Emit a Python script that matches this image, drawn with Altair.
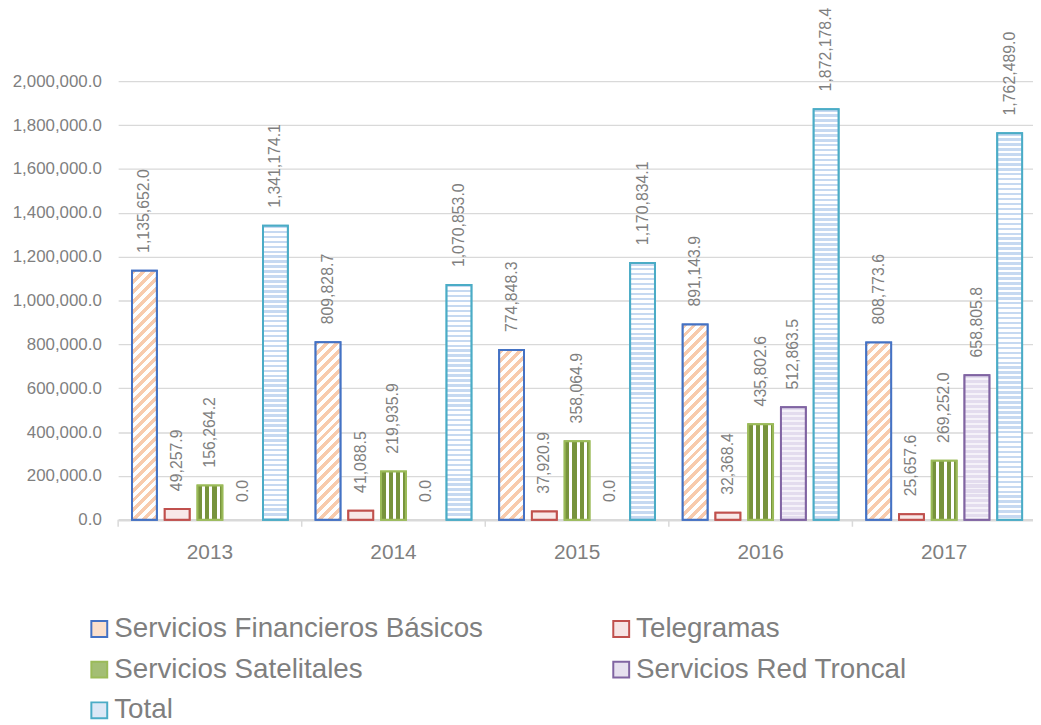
import math
import altair as alt
import pandas as pd

# ---------------- data ----------------
years = ["2013", "2014", "2015", "2016", "2017"]
series = [
    "Servicios Financieros Básicos",
    "Telegramas",
    "Servicios Satelitales",
    "Servicios Red Troncal",
    "Total",
]
v_financieros = [1135652.0, 809828.7, 774848.3, 891143.9, 808773.6]
v_telegramas = [49257.9, 41088.5, 37920.9, 32368.4, 25657.6]
v_satelitales = [156264.2, 219935.9, 358064.9, 435802.6, 269252.0]
v_red_troncal = [0.0, 0.0, 0.0, 512863.5, 658805.8]
v_total = [1341174.1, 1070853.0, 1170834.1, 1872178.4, 1762489.0]
y_ticks = [0, 200000, 400000, 600000, 800000, 1000000, 1200000,
           1400000, 1600000, 1800000, 2000000]

values = dict(zip(series, [v_financieros, v_telegramas, v_satelitales,
                           v_red_troncal, v_total]))
rows = [{"year": y, "serie": s, "value": values[s][i]}
        for s in series for i, y in enumerate(years)]
df = pd.DataFrame(rows)
df_bars = df[df["value"] > 0]
df_years = pd.DataFrame({"year": years})

# ---------------- styling ----------------
PLOT_W, PLOT_H = 925, 442
Y_MAX = 2000000
PAD_IN, PAD_OUT = 0.242, 0.424
band = PLOT_W / len(years)
step = band / (len(series) - PAD_IN + 2 * PAD_OUT)
BAR_W = step * (1 - PAD_IN)

stroke_colors = ["#4472c4", "#c0504d", "#9bbb59", "#8064a2", "#4bacc6"]
tint_colors = ["#fbe0cc", "#f7e4e4", "#a3be74", "#e6e0ef", "#dce8f6"]
GRAY = "#7f7f7f"
GRID = "#d9d9d9"
FONT = "Liberation Sans"

# legend fills column by column: first column FB, Sat, Total; second Tel, RT
legend_order = [series[0], series[2], series[4], series[1], series[3]]
legend_strokes = [stroke_colors[series.index(s)] for s in legend_order]
legend_tints = [tint_colors[series.index(s)] for s in legend_order]


def stops_for(n_cycles, parts):
    stops = []
    i = 0
    while i / n_cycles < 1:
        base = i / n_cycles
        acc = 0.0
        for frac, col in parts:
            s = base + acc / n_cycles
            e = base + (acc + frac) / n_cycles
            acc += frac
            if s >= 1:
                break
            stops.append({"offset": round(s, 5), "color": col})
            stops.append({"offset": round(min(e, 1.0), 5), "color": col})
        i += 1
    return stops


def pattern(serie, w, h):
    if serie == series[0]:  # diagonal hatch "/"
        period = 10.0
        n = (w + h) / period
        c = (w + h) / (w * w + h * h)
        return {"gradient": "linear", "x1": 0, "y1": 0,
                "x2": round(c * w, 6), "y2": round(c * h, 6),
                "stops": stops_for(n, [(0.5, "#f8cbad"), (0.5, "#ffffff")])}
    if serie == series[1]:  # dotted -> light tint
        return "#f8e8e8"
    if serie == series[2]:  # vertical stripes
        period = 7.5
        n = w / period
        return {"gradient": "linear", "x1": 0, "y1": 0.5, "x2": 1, "y2": 0.5,
                "stops": stops_for(n, [(0.6, "#77933c"), (0.4, "#ffffff")])}
    if serie == series[3]:  # lavender texture
        period = 5.0
        n = h / period
        return {"gradient": "linear", "x1": 0.5, "y1": 0, "x2": 0.5, "y2": 1,
                "stops": stops_for(n, [(0.62, "#e3dcee"), (0.38, "#f5f2f9")])}
    period = 5.0  # Total: horizontal stripes
    n = h / period
    return {"gradient": "linear", "x1": 0.5, "y1": 0, "x2": 0.5, "y2": 1,
            "stops": stops_for(n, [(0.5, "#c6d9f1"), (0.5, "#ffffff")])}


fill_conditions = []
for s in series:
    for i, y in enumerate(years):
        v = values[s][i]
        if v <= 0:
            continue
        h = v / Y_MAX * PLOT_H
        fill_conditions.append({
            "test": f"datum.serie === '{s}' && datum.year === '{y}'",
            "value": pattern(s, BAR_W, h),
        })
stroke_conditions = [{"test": f"datum.serie === '{s}'", "value": c}
                     for s, c in zip(series, stroke_colors)]

x_scale = alt.Scale(domain=years, paddingInner=0, paddingOuter=0)
xo_scale = alt.Scale(domain=series, paddingInner=PAD_IN, paddingOuter=PAD_OUT)
y_scale = alt.Scale(domain=[0, Y_MAX], nice=False)

x_axis = alt.Axis(title=None, labelAngle=0, ticks=False, domain=True,
                  domainColor=GRID, domainWidth=2.5, labelPadding=22,
                  labelFontSize=21, labelColor=GRAY, grid=False)
y_axis = alt.Axis(title=None, values=y_ticks, format=",.1f", grid=True,
                  gridColor=GRID, gridWidth=1.3, domain=False, ticks=False,
                  labelPadding=17, labelFontSize=17, labelColor=GRAY)

legend = alt.Legend(title=None, orient="none", legendX=-33, legendY=538,
                    columns=2, columnPadding=125, rowPadding=13,
                    symbolType="square", symbolSize=256, symbolStrokeWidth=2,
                    labelFontSize=28, labelColor=GRAY, labelOffset=1,
                    labelLimit=800, padding=0)

X = alt.X("year:N", sort=years, scale=x_scale, axis=x_axis)
XO = alt.XOffset("serie:N", sort=series, scale=xo_scale)
Y = alt.Y("value:Q", scale=y_scale, axis=y_axis)

base_legend = alt.Chart(df_bars).mark_bar(strokeWidth=2).encode(
    x=X, xOffset=XO, y=Y,
    fill=alt.Fill("serie:N",
                  scale=alt.Scale(domain=legend_order, range=legend_tints),
                  legend=legend),
    stroke=alt.Stroke("serie:N",
                      scale=alt.Scale(domain=legend_order, range=legend_strokes),
                      legend=legend),
)

patterned = alt.Chart(df_bars).mark_bar(strokeWidth=2).encode(
    x=X, xOffset=XO, y=Y,
    fill={"condition": fill_conditions, "value": "#ffffff"},
    stroke={"condition": stroke_conditions, "value": "#000000"},
)

labels = alt.Chart(df).mark_text(
    angle=270, align="left", baseline="middle", dx=18, fontSize=16,
    color=GRAY, font=FONT,
).encode(
    x=X, xOffset=XO, y=Y,
    text=alt.Text("value:Q", format=",.1f"),
)

cat_ticks = alt.Chart(df_years).mark_rule(color=GRID, strokeWidth=1.5).encode(
    x=alt.X("year:N", sort=years, scale=x_scale, axis=x_axis, bandPosition=0),
    y=alt.value(PLOT_H),
    y2=alt.value(PLOT_H + 7),
)

chart = alt.layer(base_legend, patterned, labels, cat_ticks).properties(
    width=PLOT_W,
    height=PLOT_H,
    autosize=alt.AutoSizeParams(type="none"),
    padding={"left": 111, "top": 71, "right": -3, "bottom": 204},
    background="#ffffff",
).configure(font=FONT).configure_view(stroke=None)

chart.save("out.html", embed_options={"renderer": "svg", "actions": False})
